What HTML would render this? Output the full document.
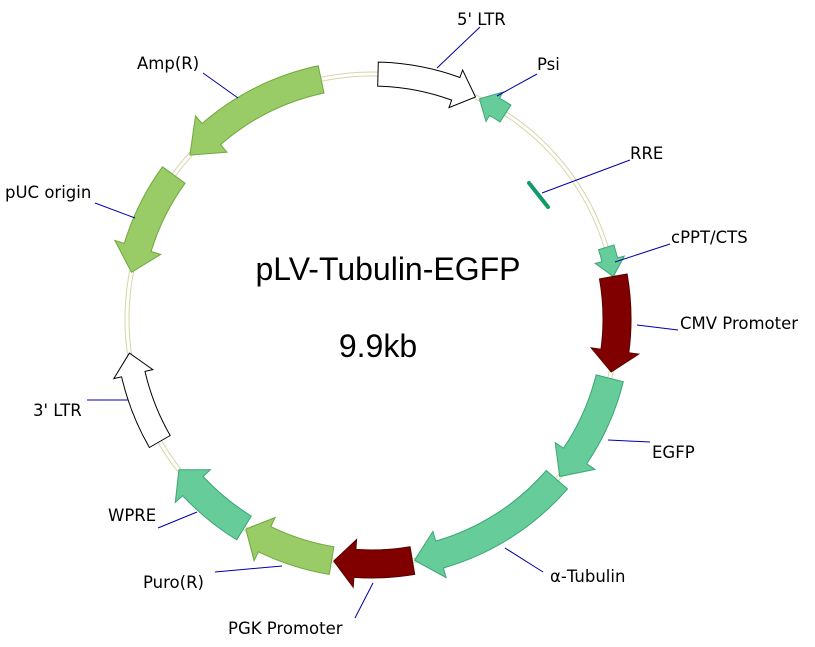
<!DOCTYPE html>
<html><head><meta charset="utf-8"><style>
html,body{margin:0;padding:0;background:#fff;}
svg{display:block;}
text{font-family:"DejaVu Sans","Liberation Sans",sans-serif;font-size:16.5px;fill:#000;}
</style></head><body>
<svg id="s" width="815" height="647" viewBox="0 0 815 647" xmlns="http://www.w3.org/2000/svg">
<circle cx="372" cy="319" r="247" fill="none" stroke="#d8d4a8" stroke-width="1"/>
<circle cx="372" cy="319" r="243" fill="none" stroke="#d8d4a8" stroke-width="1"/>
<g id="arrows"></g>
<line x1="529" y1="183" x2="548" y2="207" stroke="#129a6a" stroke-width="4" stroke-linecap="round"/>
<g stroke="#0000aa" stroke-width="1">
<line x1="437" y1="68" x2="480" y2="27"/>
<line x1="497" y1="96" x2="537" y2="74"/>
<line x1="542" y1="193" x2="630" y2="160"/>
<line x1="615" y1="262" x2="670" y2="244"/>
<line x1="637" y1="325" x2="678" y2="330"/>
<line x1="608" y1="440" x2="650" y2="442"/>
<line x1="505" y1="548" x2="543" y2="572"/>
<line x1="373" y1="583" x2="355" y2="618"/>
<line x1="282" y1="566" x2="215" y2="572"/>
<line x1="197" y1="512" x2="158" y2="528"/>
<line x1="128" y1="400" x2="87" y2="400"/>
<line x1="135" y1="218" x2="95" y2="203"/>
<line x1="238" y1="98" x2="203" y2="73"/>
</g>
<text x="457" y="25">5' LTR</text>
<text x="537" y="70">Psi</text>
<text x="630" y="159">RRE</text>
<text x="671" y="243">cPPT/CTS</text>
<text x="680" y="329">CMV Promoter</text>
<text x="652" y="458">EGFP</text>
<text x="550" y="582">α-Tubulin</text>
<text x="228" y="634">PGK Promoter</text>
<text x="143" y="588">Puro(R)</text>
<text x="108" y="521">WPRE</text>
<text x="33" y="416">3' LTR</text>
<text x="5" y="198">pUC origin</text>
<text x="137" y="69">Amp(R)</text>
<text x="388" y="280" text-anchor="middle" style="font-family:'Liberation Sans',sans-serif;font-size:32px">pLV-Tubulin-EGFP</text>
<text x="378" y="357" text-anchor="middle" style="font-family:'Liberation Sans',sans-serif;font-size:32px">9.9kb</text>
</svg>
<script>
var cx=372,cy=319,R=245;
function P(r,a){a=a*Math.PI/180;return (cx+r*Math.sin(a)).toFixed(1)+","+(cy-r*Math.cos(a)).toFixed(1);}
function arrow(a0,a1,h,fill,stroke,w,hw){
  w=w||14;hw=hw||24;
  var d=a1>a0?1:-1, ah=a1-d*h;
  var sw=d>0?1:0, sw2=d>0?0:1;
  var large=Math.abs(ah-a0)>180?1:0;
  var p="M"+P(R+w,a0)+" A"+(R+w)+","+(R+w)+" 0 "+large+" "+sw+" "+P(R+w,ah)+
  " L"+P(R+hw,ah)+" L"+P(R,a1)+" L"+P(R-hw,ah)+" L"+P(R-w,ah)+
  " A"+(R-w)+","+(R-w)+" 0 "+large+" "+sw2+" "+P(R-w,a0)+" Z";
  return '<path d="'+p+'" fill="'+fill+'" stroke="'+stroke+'" stroke-width="1"/>';
}
var T="#66cc99",TS="#3aa676",G="#99cc66",GS="#6fa83c",D="#800000",DS="#5a0000";
var s="";
s+=arrow(1.4,25,5,"#fff","#000",12,20);
s+=arrow(33,26,4,T,TS,10,17);
s+=arrow(73,80,4,T,TS,8,15);
s+=arrow(80,102.5,5,D,DS,14,24);
s+=arrow(104,130,6,T,TS,14,24);
s+=arrow(131,170,6,T,TS,14,24);
s+=arrow(170.5,189,5,D,DS,14,24);
s+=arrow(189.5,211,5,G,GS,14,24);
s+=arrow(211.5,232,5,T,TS,14,24);
s+=arrow(240,262,5,"#fff","#000",12,20);
s+=arrow(306,281,6,G,GS,14,24);
s+=arrow(348,312,7,G,GS,14,24);
document.getElementById("arrows").innerHTML=s;
</script>
</body></html>
